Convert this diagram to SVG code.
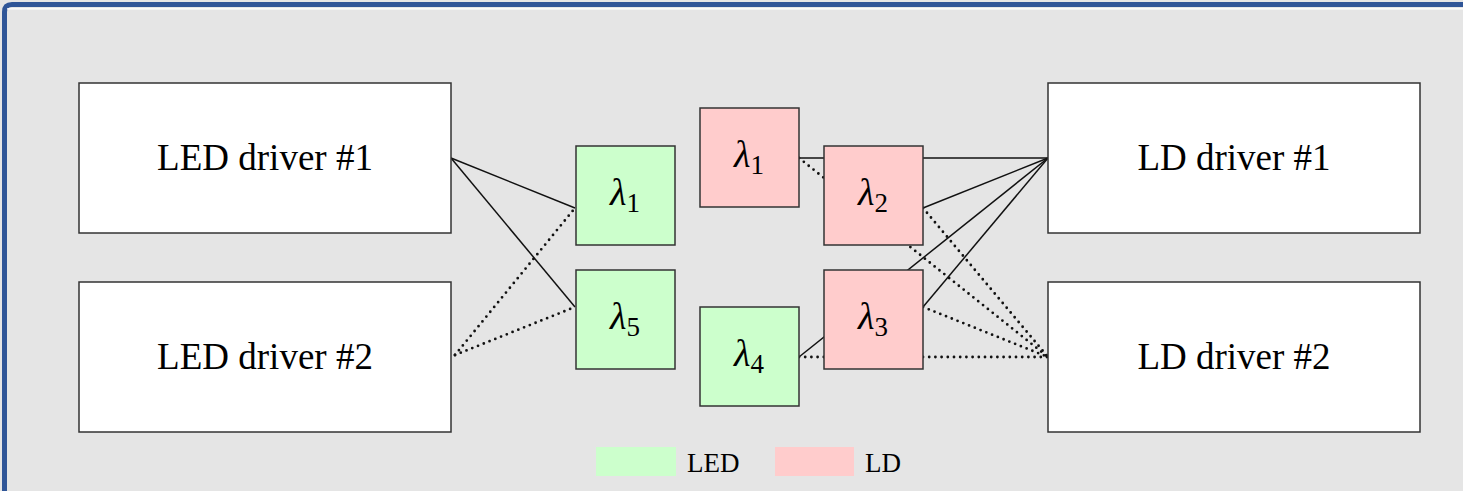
<svg xmlns="http://www.w3.org/2000/svg" width="1463" height="491" viewBox="0 0 1463 491">
<defs>
<style>
.bg{fill:#e5e5e5}
.frame{fill:none;stroke:#2f5597;stroke-width:5}
.drv{fill:#ffffff;stroke:#333333;stroke-width:1.5}
.led{fill:#ccffcc;stroke:#333333;stroke-width:1.5}
.ld{fill:#ffcccc;stroke:#333333;stroke-width:1.5}
.lbl{font-family:"Liberation Serif","Times New Roman",serif;font-size:37px;fill:#000;text-anchor:middle}
.lam{font-family:"Liberation Serif","Times New Roman",serif;font-size:38px;fill:#000;text-anchor:middle}
.sub{font-style:normal;font-size:27px}
.leg{font-family:"Liberation Serif","Times New Roman",serif;font-size:27px;fill:#000}
.solid{stroke:#111;stroke-width:1.5;fill:none}
.dot{stroke:#111;stroke-width:2.8;fill:none;stroke-linecap:round;stroke-dasharray:0 6.2}
</style>
</defs>
<rect class="bg" x="0" y="0" width="1463" height="491"/>
<path class="frame" d="M4.5,491 V12 Q4.5,4.5 12,4.5 H1463"/>
<line x1="7" y1="8.8" x2="1463" y2="8.8" stroke="#ffffff" stroke-width="1.2"/>

<g id="connectors">
<line class="solid" x1="451" y1="158" x2="575" y2="208"/>
<line class="solid" x1="451" y1="158" x2="575" y2="307"/>
<line class="dot" x1="455" y1="355" x2="575" y2="208"/>
<line class="dot" x1="455" y1="355" x2="575" y2="307"/>
<line class="solid" x1="799" y1="158" x2="1048" y2="158"/>
<line class="dot" x1="799" y1="158" x2="1048" y2="357"/>
<line class="solid" x1="923" y1="208" x2="1048" y2="158"/>
<line class="dot" x1="923" y1="208" x2="1048" y2="357"/>
<line class="solid" x1="799" y1="357" x2="1048" y2="158"/>
<line class="dot" x1="799" y1="357" x2="1048" y2="357"/>
<line class="solid" x1="923" y1="307" x2="1048" y2="158"/>
<line class="dot" x1="923" y1="307" x2="1048" y2="357"/>
</g>

<g id="led-driver-1"><rect class="drv" x="79" y="83" width="372" height="150"/><text class="lbl" x="265" y="170">LED driver #1</text></g>
<g id="led-driver-2"><rect class="drv" x="79" y="282" width="372" height="150"/><text class="lbl" x="265" y="369">LED driver #2</text></g>
<g id="ld-driver-1"><rect class="drv" x="1048" y="83" width="372" height="150"/><text class="lbl" x="1234" y="170">LD driver #1</text></g>
<g id="ld-driver-2"><rect class="drv" x="1048" y="282" width="372" height="150"/><text class="lbl" x="1234" y="369">LD driver #2</text></g>

<g id="led-l1"><rect class="led" x="576" y="146" width="99" height="99"/><text class="lam" x="625" y="205"><tspan font-style="italic">λ</tspan><tspan class="sub" dy="7">1</tspan></text></g>
<g id="led-l5"><rect class="led" x="576" y="270" width="99" height="99"/><text class="lam" x="625" y="329"><tspan font-style="italic">λ</tspan><tspan class="sub" dy="7">5</tspan></text></g>
<g id="led-l4"><rect class="led" x="700" y="307" width="99" height="99"/><text class="lam" x="749" y="366"><tspan font-style="italic">λ</tspan><tspan class="sub" dy="7">4</tspan></text></g>
<g id="ld-l1"><rect class="ld" x="700" y="108" width="99" height="99"/><text class="lam" x="749" y="167"><tspan font-style="italic">λ</tspan><tspan class="sub" dy="7">1</tspan></text></g>
<g id="ld-l2"><rect class="ld" x="824" y="146" width="99" height="99"/><text class="lam" x="873" y="205"><tspan font-style="italic">λ</tspan><tspan class="sub" dy="7">2</tspan></text></g>
<g id="ld-l3"><rect class="ld" x="824" y="270" width="99" height="99"/><text class="lam" x="873" y="329"><tspan font-style="italic">λ</tspan><tspan class="sub" dy="7">3</tspan></text></g>

<g id="legend">
<rect x="596" y="447" width="80" height="29" fill="#ccffcc"/>
<text class="leg" x="687" y="472">LED</text>
<rect x="775" y="447" width="79" height="29" fill="#ffcccc"/>
<text class="leg" x="865" y="472">LD</text>
</g>
</svg>
